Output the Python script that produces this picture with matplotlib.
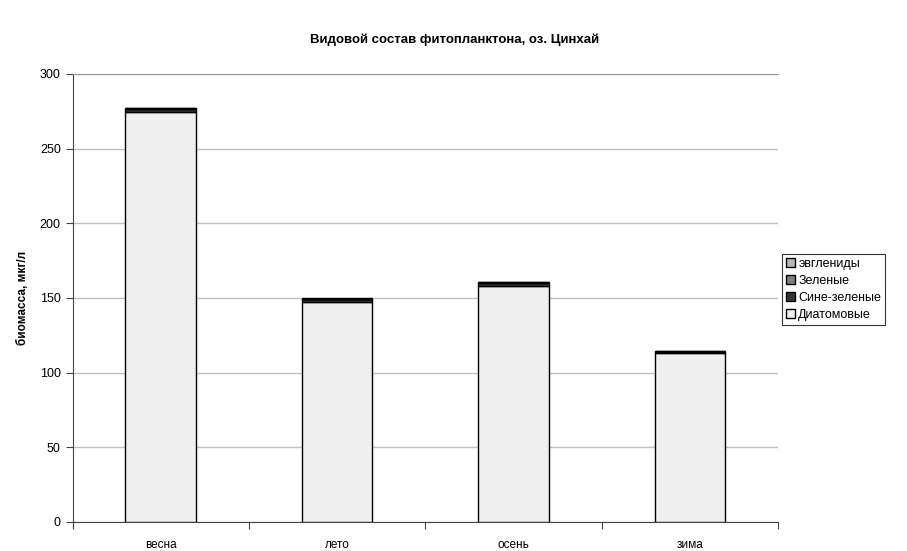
import matplotlib.pyplot as plt
import numpy as np

plt.rcParams['font.family'] = ['Liberation Sans', 'DejaVu Sans']

seasons = ["весна", "лето", "осень", "зима"]
diatom = [274.5, 147.0, 158.0, 113.0]
bluegreen = [2.0, 2.0, 2.0, 1.0]
green = [0.5, 0.5, 0.5, 0.3]
euglen = [0.3, 0.3, 0.3, 0.2]

fig = plt.figure(figsize=(9.07, 5.51), dpi=100)
ax = fig.add_axes([72.5/907, 1-522/551, (778-72.5)/907, 448/551])

x = np.arange(len(seasons))
w = 0.4
bottom = np.zeros(len(seasons))
series = [(diatom, "#efefef", "Диатомовые"),
          (bluegreen, "#333333", "Сине-зеленые"),
          (green, "#808080", "Зеленые"),
          (euglen, "#b8b8b8", "эвглениды")]
handles = []
for vals, col, lab in series:
    b = ax.bar(x, vals, w, bottom=bottom, color=col, edgecolor="black",
               linewidth=1, label=lab, zorder=3)
    handles.append(b)
    bottom += np.array(vals)

ax.set_xlim(-0.5, len(seasons) - 0.5)
ax.set_ylim(0, 300)
ax.set_yticks(np.arange(0, 301, 50))
ax.set_xticks(np.arange(-0.5, len(seasons), 1.0))
ax.set_xticklabels([])
ax.set_xticks(x, minor=True)
ax.set_xticklabels(seasons, minor=True)
ax.tick_params(axis="x", which="minor", length=0, pad=12, labelsize=8.5)
ax.tick_params(axis="x", which="major", length=5, direction="out", color="#444")
ax.tick_params(axis="y", length=5, direction="out", labelsize=9, color="#444")
ax.grid(axis="y", color="#c0c0c0", linewidth=1, zorder=0)
ax.spines["right"].set_visible(False)
ax.spines["top"].set_color("#999999")
ax.spines["left"].set_color("#444444")
ax.spines["bottom"].set_color("#444444")

ax.set_ylabel("биомасса, мкг/л", fontsize=8.5, fontweight="bold", labelpad=8)
fig.suptitle("Видовой состав фитопланктона, оз. Цинхай", fontsize=9.5,
             fontweight="bold", x=455/907, y=1-40/551, va="center")

leg = fig.legend(handles[::-1], [h.get_label() for h in handles[::-1]],
                 loc="upper left", bbox_to_anchor=(782/907, 1-254/551),
                 fontsize=9, frameon=True, fancybox=False, edgecolor="black",
                 handlelength=0.7, handleheight=0.7, handletextpad=0.3,
                 borderpad=0.3, labelspacing=0.4, borderaxespad=0)
leg.get_frame().set_linewidth(0.8)

plt.savefig("out.png", dpi=100)
